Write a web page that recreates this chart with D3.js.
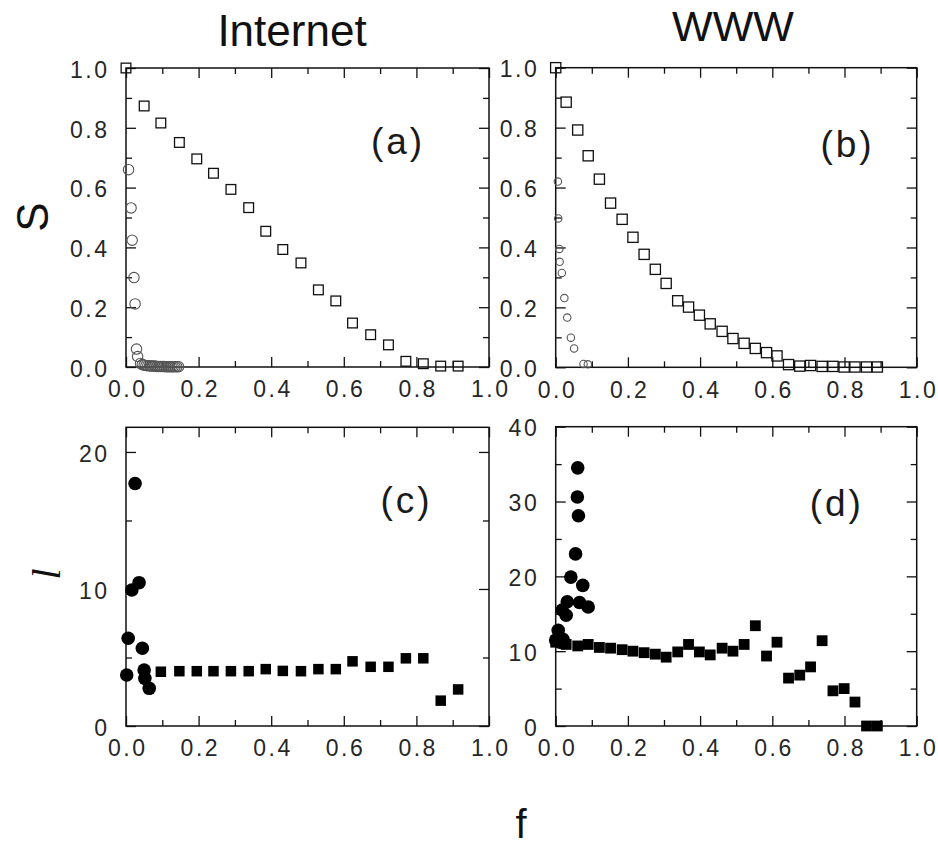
<!DOCTYPE html>
<html><head><meta charset="utf-8">
<script src="https://cdn.jsdelivr.net/npm/d3@7"></script>
<style>body{margin:0;background:#fff}svg{display:block}</style>
</head><body><svg id="chart" width="938" height="848"></svg>
<script>
// ---------- tick values ----------
const xMajorTicks = [0, 0.2, 0.4, 0.6, 0.8, 1.0];
const xMinorTicks = [0.1, 0.3, 0.5, 0.7, 0.9];
const sMajorTicks = [0, 0.2, 0.4, 0.6, 0.8, 1.0];
const sMinorTicks = [0.1, 0.3, 0.5, 0.7, 0.9];
const lcMajorTicks = [0, 10, 20];
const lcMinorTicks = [5, 15];
const ldMajorTicks = [0, 10, 20, 30, 40];
const ldMinorTicks = [5, 15, 25, 35];

// ---------- panel titles ----------
const columnTitles = ["Internet", "WWW"];
const panelLabels = ["(a)", "(b)", "(c)", "(d)"];

// ---------- (a) Internet: S vs f ----------
const fA_squares = [0, 0.050, 0.096, 0.147, 0.195, 0.241, 0.289, 0.338, 0.385, 0.432, 0.482, 0.530, 0.578, 0.624, 0.674, 0.723, 0.771, 0.819, 0.867, 0.915];
const sA_squares = [1.0, 0.873, 0.816, 0.751, 0.696, 0.648, 0.594, 0.533, 0.454, 0.393, 0.348, 0.258, 0.221, 0.147, 0.108, 0.074, 0.019, 0.011, 0.003, 0.003];
const fA_circles = [0.007, 0.014, 0.017, 0.022, 0.025, 0.029, 0.032, 0.040, 0.045, 0.050, 0.055, 0.060, 0.065, 0.070, 0.075, 0.080, 0.085, 0.090, 0.095, 0.100, 0.105, 0.110, 0.115, 0.120, 0.125, 0.130, 0.135, 0.140, 0.145];
const sA_circles = [0.660, 0.532, 0.424, 0.299, 0.211, 0.060, 0.035, 0.012, 0.008, 0.006, 0.005, 0.004, 0.004, 0.003, 0.003, 0.003, 0.002, 0.002, 0.002, 0.002, 0.002, 0.001, 0.001, 0.001, 0.001, 0.001, 0.001, 0.001, 0.001];

// ---------- (b) WWW: S vs f ----------
const fB_squares = [0, 0.029, 0.061, 0.090, 0.121, 0.152, 0.184, 0.214, 0.245, 0.276, 0.306, 0.338, 0.368, 0.398, 0.428, 0.461, 0.491, 0.522, 0.553, 0.584, 0.613, 0.645, 0.676, 0.706, 0.738, 0.768, 0.799, 0.829, 0.861, 0.891];
const sB_squares = [1.0, 0.885, 0.792, 0.706, 0.628, 0.548, 0.494, 0.434, 0.377, 0.327, 0.280, 0.222, 0.201, 0.174, 0.145, 0.120, 0.096, 0.080, 0.063, 0.049, 0.038, 0.009, 0.004, 0.006, 0.003, 0.003, 0.001, 0.001, 0.001, 0.001];
const fB_circles = [0.006, 0.007, 0.010, 0.011, 0.017, 0.024, 0.032, 0.042, 0.051, 0.077, 0.089];
const sB_circles = [0.620, 0.497, 0.395, 0.352, 0.315, 0.231, 0.166, 0.099, 0.063, 0.011, 0.010];

// ---------- (c) Internet: l vs f ----------
const fC_circles = [0.002, 0.006, 0.016, 0.025, 0.036, 0.045, 0.050, 0.052, 0.064];
const lC_circles = [3.72, 6.40, 9.93, 17.7, 10.46, 5.67, 4.09, 3.48, 2.75];
const fC_squares = [0.096, 0.147, 0.195, 0.241, 0.289, 0.338, 0.385, 0.432, 0.482, 0.530, 0.578, 0.624, 0.674, 0.723, 0.771, 0.819, 0.867, 0.915];
const lC_squares = [3.96, 4.00, 4.00, 4.00, 4.00, 4.00, 4.15, 4.02, 4.00, 4.15, 4.15, 4.72, 4.32, 4.32, 4.94, 4.94, 1.85, 2.67];

// ---------- (d) WWW: l vs f ----------
const fD_circles = [0.000, 0.007, 0.012, 0.020, 0.018, 0.029, 0.032, 0.042, 0.055, 0.060, 0.061, 0.063, 0.066, 0.075, 0.090];
const lD_circles = [11.5, 12.8, 11.2, 11.6, 15.5, 14.8, 16.6, 19.9, 23.0, 30.6, 34.5, 28.1, 16.5, 18.8, 15.9];
const fD_squares = [0, 0.029, 0.061, 0.090, 0.121, 0.152, 0.184, 0.214, 0.245, 0.276, 0.306, 0.338, 0.368, 0.398, 0.428, 0.461, 0.491, 0.522, 0.553, 0.584, 0.613, 0.645, 0.676, 0.706, 0.738, 0.768, 0.799, 0.829, 0.861, 0.891];
const lD_squares = [11.2, 10.9, 10.7, 10.9, 10.5, 10.4, 10.2, 10.0, 9.8, 9.6, 9.2, 9.9, 10.9, 9.9, 9.5, 10.4, 10.0, 10.9, 13.4, 9.35, 11.2, 6.4, 6.8, 7.9, 11.4, 4.7, 5.0, 3.2, 0, 0];

// ---------- drawing ----------
const svg = d3.select("#chart");
svg.append("rect").attr("width", 938).attr("height", 848).attr("fill", "#fff");

const SANS = "'Liberation Sans', Arial, Helvetica, sans-serif";
const INK = "#111";
const TICK_TXT = "#262626";

const fmt1 = d3.format(".1f");
const fmt0 = d3.format("d");

const panels = [
  { x: [126, 489], y: [367, 68], yDom: [0, 1], yMaj: sMajorTicks, yMin: sMinorTicks, yFmt: fmt1,
    label: panelLabels[0], lab: [396.5, 154],
    series: [
      { f: fA_squares, v: sA_squares, shape: "square", size: 9.7, fill: "none", stroke: "#111", sw: 1.3 },
      { f: fA_circles, v: sA_circles, shape: "circle", size: 5.2, fill: "none", stroke: "#555", sw: 1.1 }
    ] },
  { x: [555.7, 916.7], y: [367.3, 67.7], yDom: [0, 1], yMaj: sMajorTicks, yMin: sMinorTicks, yFmt: fmt1,
    label: panelLabels[1], lab: [846, 157],
    series: [
      { f: fB_squares, v: sB_squares, shape: "square", size: 10.2, fill: "none", stroke: "#111", sw: 1.3 },
      { f: fB_circles, v: sB_circles, shape: "circle", size: 3.7, fill: "none", stroke: "#555", sw: 1.1 }
    ] },
  { x: [126, 489], y: [726, 427.3], yDom: [0, 21.8], yMaj: lcMajorTicks, yMin: lcMinorTicks, yFmt: fmt0,
    label: panelLabels[2], lab: [405, 513],
    series: [
      { f: fC_squares, v: lC_squares, shape: "square", size: 10.5, fill: "#000", stroke: "none", sw: 0 },
      { f: fC_circles, v: lC_circles, shape: "circle", size: 6.8, fill: "#000", stroke: "none", sw: 0 }
    ] },
  { x: [555.7, 916.7], y: [726, 426.7], yDom: [0, 40], yMaj: ldMajorTicks, yMin: ldMinorTicks, yFmt: fmt0,
    label: panelLabels[3], lab: [835.3, 516],
    series: [
      { f: fD_squares, v: lD_squares, shape: "square", size: 10.8, fill: "#000", stroke: "none", sw: 0 },
      { f: fD_circles, v: lD_circles, shape: "circle", size: 6.8, fill: "#000", stroke: "none", sw: 0 }
    ] }
];

function styleAxis(sel) {
  sel.select(".domain").remove();
  sel.selectAll(".tick line").attr("stroke", INK).attr("stroke-width", 1.3);
  sel.selectAll(".tick text")
    .attr("font-family", SANS).attr("font-size", 23).attr("fill", TICK_TXT)
    .style("letter-spacing", "2.5px");
  sel.attr("font-family", null).attr("font-size", null);
}

panels.forEach(p => {
  const xs = d3.scaleLinear().domain([0, 1]).range(p.x);
  const ys = d3.scaleLinear().domain(p.yDom).range(p.y);
  const g = svg.append("g");

  // axes with inward ticks on all four sides
  const bottom = p.y[0], top = p.y[1], left = p.x[0], right = p.x[1];
  g.append("g").attr("transform", `translate(0,${bottom})`)
    .call(d3.axisBottom(xs).tickValues(xMajorTicks).tickSize(-10).tickPadding(14).tickFormat(fmt1))
    .call(styleAxis).selectAll(".tick text").attr("dx", "1.25px");
  g.append("g").attr("transform", `translate(0,${bottom})`)
    .call(d3.axisBottom(xs).tickValues(xMinorTicks).tickSize(-6).tickFormat("")).call(styleAxis);
  g.append("g").attr("transform", `translate(0,${top})`)
    .call(d3.axisTop(xs).tickValues(xMajorTicks).tickSize(-10).tickFormat("")).call(styleAxis);
  g.append("g").attr("transform", `translate(0,${top})`)
    .call(d3.axisTop(xs).tickValues(xMinorTicks).tickSize(-6).tickFormat("")).call(styleAxis);
  g.append("g").attr("transform", `translate(${left},0)`)
    .call(d3.axisLeft(ys).tickValues(p.yMaj).tickSize(-10).tickPadding(16.5).tickFormat(p.yFmt))
    .call(styleAxis).selectAll(".tick text").attr("dy", "0.4em");
  g.append("g").attr("transform", `translate(${left},0)`)
    .call(d3.axisLeft(ys).tickValues(p.yMin).tickSize(-6).tickFormat("")).call(styleAxis);
  g.append("g").attr("transform", `translate(${right},0)`)
    .call(d3.axisRight(ys).tickValues(p.yMaj).tickSize(-10).tickFormat("")).call(styleAxis);
  g.append("g").attr("transform", `translate(${right},0)`)
    .call(d3.axisRight(ys).tickValues(p.yMin).tickSize(-6).tickFormat("")).call(styleAxis);

  // frame
  g.append("rect").attr("x", left).attr("y", top)
    .attr("width", right - left).attr("height", bottom - top)
    .attr("fill", "none").attr("stroke", INK).attr("stroke-width", 1.5);

  // markers
  p.series.forEach(s => {
    const data = s.f.map((f, i) => ({ f, v: s.v[i] }));
    if (s.shape === "square") {
      g.append("g").selectAll("rect").data(data).join("rect")
        .attr("x", d => xs(d.f) - s.size / 2).attr("y", d => ys(d.v) - s.size / 2)
        .attr("width", s.size).attr("height", s.size)
        .attr("fill", s.fill).attr("stroke", s.stroke).attr("stroke-width", s.sw);
    } else {
      g.append("g").selectAll("circle").data(data).join("circle")
        .attr("cx", d => xs(d.f)).attr("cy", d => ys(d.v)).attr("r", s.size)
        .attr("fill", s.fill).attr("stroke", s.stroke).attr("stroke-width", s.sw);
    }
  });

  // panel label
  g.append("text").attr("x", p.lab[0] + 1.5).attr("y", p.lab[1])
    .attr("text-anchor", "middle").attr("font-family", SANS).attr("font-size", 37)
    .style("letter-spacing", "3px").attr("fill", "#1a1a1a").text(p.label);
});

// column titles
svg.append("text").attr("x", 292).attr("y", 46).attr("text-anchor", "middle")
  .attr("font-family", SANS).attr("font-size", 44).attr("fill", "#111").text(columnTitles[0]);
svg.append("text").attr("x", 733).attr("y", 41).attr("text-anchor", "middle")
  .attr("font-family", SANS).attr("font-size", 43).attr("fill", "#111").text(columnTitles[1]);

// axis titles
svg.append("text").attr("transform", "translate(48,217) rotate(-90)").attr("text-anchor", "middle")
  .attr("font-family", SANS).attr("font-size", 44).attr("fill", "#111").text("S");
svg.append("text").attr("transform", "translate(60,574) rotate(-90)").attr("text-anchor", "middle")
  .attr("font-family", "'Liberation Serif', 'Times New Roman', serif").attr("font-style", "italic")
  .attr("font-size", 40).attr("fill", "#111").text("l");
svg.append("text").attr("x", 521).attr("y", 838).attr("text-anchor", "middle")
  .attr("font-family", SANS).attr("font-size", 40).attr("fill", "#111").text("f");
</script>
</body></html>
